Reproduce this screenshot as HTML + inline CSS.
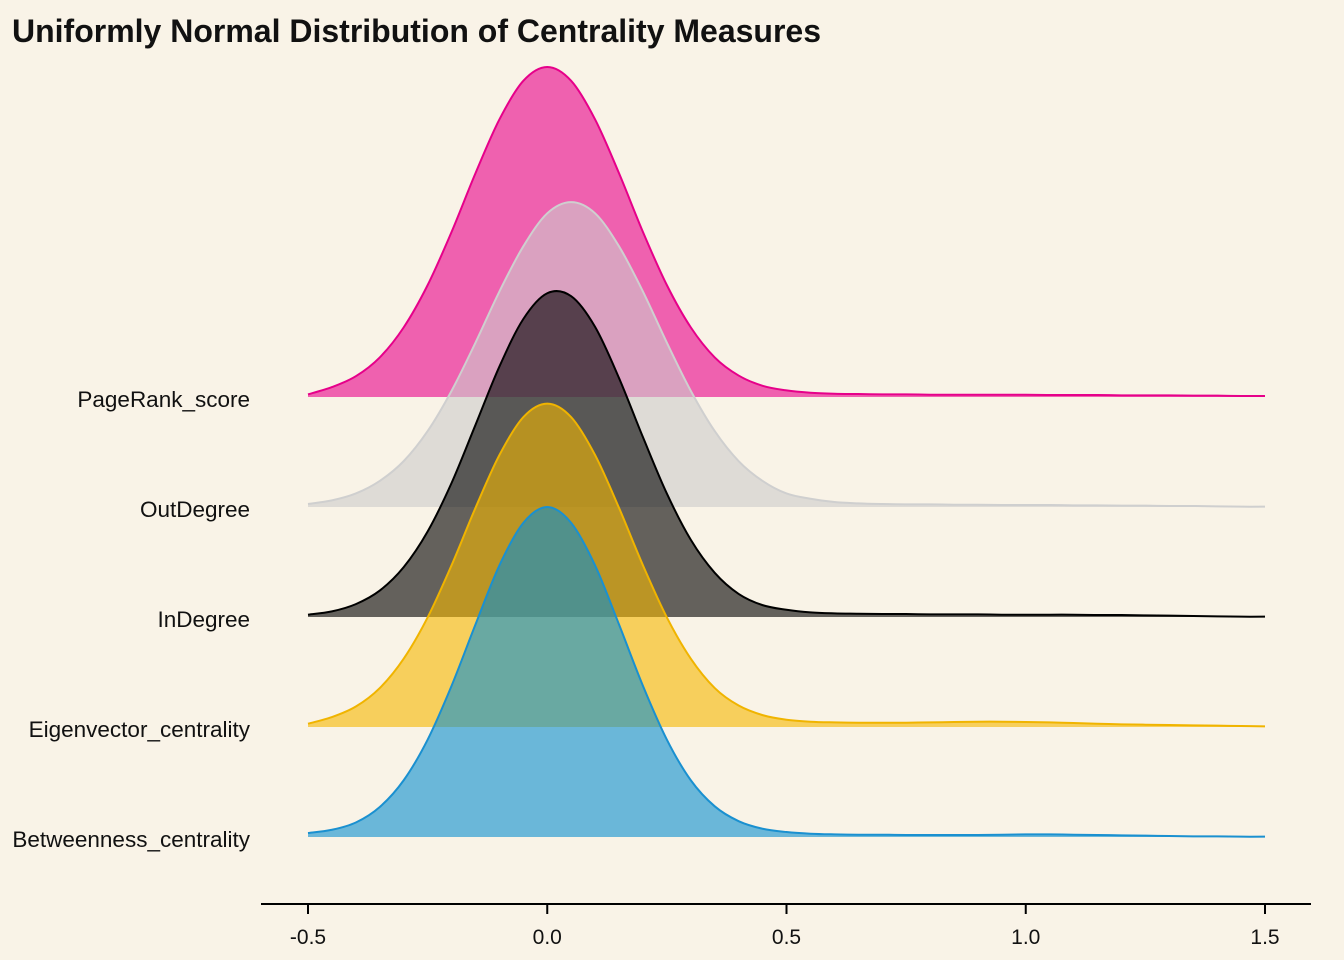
<!DOCTYPE html>
<html><head><meta charset="utf-8"><style>
html,body{margin:0;padding:0;background:#f9f3e7;}
svg{display:block;font-family:"Liberation Sans",Arial,sans-serif;}
</style></head><body>
<svg id="chart" width="1344" height="960">
<rect width="1344" height="960" fill="#f9f3e7"/>
<text x="12" y="42" font-size="32" font-weight="bold" fill="#111">Uniformly Normal Distribution of Centrality Measures</text>
<g id="ridges"></g>
<g id="axis"></g>
<g id="labels"></g>
</svg>
<script>
const categories = ["PageRank_score","OutDegree","InDegree","Eigenvector_centrality","Betweenness_centrality"];
const xStart = -0.5, xStep = 0.05;
const pagerank = [0.008,0.03,0.063,0.12,0.211,0.339,0.5,0.678,0.841,0.958,1.0,0.958,0.841,0.678,0.5,0.339,0.211,0.12,0.065,0.034,0.02,0.013,0.01,0.009,0.008,0.008,0.007,0.007,0.007,0.007,0.007,0.006,0.006,0.006,0.005,0.005,0.005,0.004,0.004,0.003,0.003];
const outdegree = [0.009,0.02,0.041,0.079,0.139,0.23,0.352,0.498,0.653,0.79,0.89,0.924,0.89,0.79,0.653,0.498,0.352,0.23,0.139,0.079,0.041,0.025,0.015,0.011,0.009,0.008,0.008,0.007,0.007,0.006,0.006,0.006,0.005,0.005,0.004,0.004,0.003,0.003,0.002,0.001,0.001];
const indegree = [0.007,0.017,0.039,0.08,0.151,0.259,0.406,0.582,0.759,0.903,0.981,0.972,0.879,0.724,0.545,0.374,0.234,0.134,0.07,0.036,0.022,0.014,0.011,0.01,0.009,0.009,0.008,0.008,0.008,0.007,0.007,0.007,0.007,0.006,0.006,0.005,0.004,0.003,0.002,0.001,0.001];
const eigenvector = [0.01,0.03,0.062,0.118,0.207,0.332,0.49,0.664,0.824,0.939,0.98,0.939,0.824,0.664,0.49,0.332,0.207,0.118,0.065,0.036,0.022,0.016,0.014,0.013,0.013,0.013,0.014,0.015,0.016,0.016,0.015,0.014,0.012,0.01,0.008,0.007,0.006,0.005,0.004,0.003,0.002];
const betweenness = [0.012,0.022,0.044,0.091,0.172,0.295,0.458,0.644,0.823,0.952,1.0,0.952,0.823,0.644,0.458,0.295,0.172,0.093,0.048,0.025,0.015,0.01,0.008,0.007,0.007,0.006,0.006,0.006,0.006,0.007,0.008,0.008,0.007,0.006,0.005,0.004,0.003,0.002,0.002,0.001,0.001];
const seriesValues = [pagerank,outdegree,indegree,eigenvector,betweenness];
const tickValues = [-0.5,0.0,0.5,1.0,1.5];
const tickLabels = ["-0.5","0.0","0.5","1.0","1.5"];

const fills = ["rgba(231,0,138,0.6)","rgba(204,204,204,0.6)","rgba(0,0,0,0.6)","rgba(245,184,0,0.6)","rgba(10,144,208,0.6)"];
const strokes = ["#e6008a","#cfcfcf","#000000","#f0b400","#1a90d0"];
const NS = "http://www.w3.org/2000/svg";
const xScale = v => 308 + (v + 0.5) * 478.5;
const baseline = i => 397 + i * 110;
const hScale = 330;

function smoothPath(pts){
  let d = "M" + pts[0][0].toFixed(2) + "," + pts[0][1].toFixed(2);
  for(let i=0;i<pts.length-1;i++){
    const p0=pts[Math.max(0,i-1)],p1=pts[i],p2=pts[i+1],p3=pts[Math.min(pts.length-1,i+2)];
    const c1x=p1[0]+(p2[0]-p0[0])/6,c1y=p1[1]+(p2[1]-p0[1])/6;
    const c2x=p2[0]-(p3[0]-p1[0])/6,c2y=p2[1]-(p3[1]-p1[1])/6;
    d+=" C"+c1x.toFixed(2)+","+c1y.toFixed(2)+" "+c2x.toFixed(2)+","+c2y.toFixed(2)+" "+p2[0].toFixed(2)+","+p2[1].toFixed(2);
  }
  return d;
}
const ridges=document.getElementById("ridges");
seriesValues.forEach((vals,i)=>{
  const b=baseline(i);
  const pts=vals.map((v,j)=>[xScale(xStart+j*xStep), b - v*hScale]);
  const line=smoothPath(pts);
  const area=document.createElementNS(NS,"path");
  area.setAttribute("d", line+" L"+pts[pts.length-1][0]+","+b+" L"+pts[0][0]+","+b+" Z");
  area.setAttribute("fill", fills[i]);
  
  
  ridges.appendChild(area);
  const ln=document.createElementNS(NS,"path");
  ln.setAttribute("d", line);
  ln.setAttribute("fill","none");
  ln.setAttribute("stroke", strokes[i]);
  ln.setAttribute("stroke-width","2");
  
  
  ridges.appendChild(ln);
  const t=document.createElementNS(NS,"text");
  t.setAttribute("x","250");t.setAttribute("y",String(b+10));
  t.setAttribute("text-anchor","end");t.setAttribute("font-size","22.5");t.setAttribute("fill","#111");
  t.textContent=categories[i];
  
  
  document.getElementById("labels").appendChild(t);
});
const axis=document.getElementById("axis");
const al=document.createElementNS(NS,"line");
al.setAttribute("x1","261");al.setAttribute("x2","1311");al.setAttribute("y1","904");al.setAttribute("y2","904");
al.setAttribute("stroke","#000");al.setAttribute("stroke-width","2");


axis.appendChild(al);
tickValues.forEach((v,k)=>{
  const x=xScale(v);
  const tk=document.createElementNS(NS,"line");
  tk.setAttribute("x1",x);tk.setAttribute("x2",x);tk.setAttribute("y1","904");tk.setAttribute("y2","914");
  tk.setAttribute("stroke","#000");tk.setAttribute("stroke-width","2");
  
  
  axis.appendChild(tk);
  const tl=document.createElementNS(NS,"text");
  tl.setAttribute("x",x);tl.setAttribute("y","944");tl.setAttribute("text-anchor","middle");
  tl.setAttribute("font-size","21");tl.setAttribute("fill","#111");
  tl.textContent=tickLabels[k];
  
  
  axis.appendChild(tl);
});
</script>
</body></html>
